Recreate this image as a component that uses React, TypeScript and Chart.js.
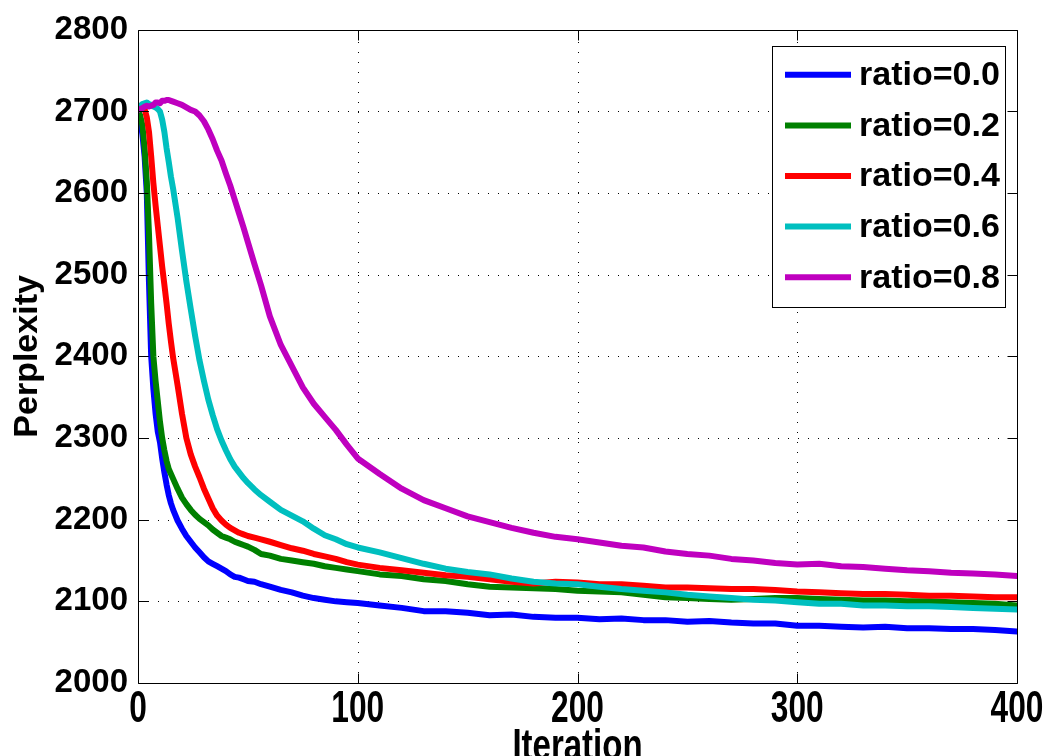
import React, { useEffect, useRef } from "react";
import { Chart, registerables } from "chart.js";

Chart.register(...registerables);

const iterations = [
  0, 1, 2, 3, 4, 5, 6, 7, 8, 9, 10, 11, 12, 13, 14, 15, 16,
  18, 20, 22, 24, 26, 28, 30, 32, 34, 36, 38, 40, 42, 44, 46, 48, 50,
  53, 56,
  60, 65, 70, 75, 80, 85, 90, 95, 100,
  110, 120, 130, 140, 150, 160, 170, 180, 190, 200, 210, 220, 230, 240, 250,
  260, 270, 280, 290, 300, 310, 320, 330, 340, 350, 360, 370, 380, 390, 400,
];

const ratio00 = [
  2700, 2690, 2672, 2645, 2600, 2490, 2400, 2360, 2330, 2308, 2295, 2275, 2258, 2243, 2230, 2220, 2212,
  2199, 2189, 2180, 2173, 2166, 2160, 2154, 2149, 2146, 2143, 2140, 2137, 2133, 2130, 2129, 2127, 2125,
  2124, 2121,
  2118, 2114, 2111, 2107, 2104, 2102, 2100, 2099, 2098,
  2095, 2092, 2088, 2088, 2086, 2083, 2084, 2081, 2080, 2080, 2078, 2079, 2077, 2077, 2075,
  2076, 2074, 2073, 2073, 2070, 2070, 2069, 2068, 2069, 2067, 2067, 2066, 2066, 2065, 2063,
];

const ratio02 = [
  2700, 2695, 2683, 2655, 2615, 2550, 2465, 2400, 2370, 2345, 2320, 2300, 2285, 2272, 2262, 2256, 2250,
  2238, 2227, 2219, 2212, 2206, 2201, 2197, 2193, 2188, 2184, 2180, 2178, 2176, 2173, 2171, 2169, 2167,
  2163, 2158,
  2156, 2152, 2150, 2148, 2146, 2143, 2141, 2139, 2137,
  2133, 2131, 2127, 2125, 2121, 2118, 2117, 2116, 2115, 2113, 2112, 2111, 2108, 2105, 2104,
  2103, 2102, 2103, 2104, 2104, 2103, 2102, 2101, 2101, 2100, 2100, 2099, 2098, 2097, 2095,
];

const ratio04 = [
  2702, 2707, 2708, 2703, 2693, 2675, 2645, 2612, 2585, 2560, 2535, 2510, 2488, 2465, 2440, 2418, 2398,
  2365, 2330, 2300, 2280, 2265, 2252, 2238, 2226, 2214, 2205, 2199, 2194, 2190, 2187, 2184, 2182, 2180,
  2178, 2176,
  2173, 2169, 2165, 2162, 2158, 2155, 2152, 2148, 2145,
  2141, 2138, 2135, 2132, 2130, 2127, 2124, 2122, 2124, 2123, 2121, 2121, 2119, 2117, 2117,
  2116, 2115, 2115, 2114, 2112, 2111, 2110, 2109, 2109, 2108, 2107, 2107, 2106, 2105, 2105,
];

const ratio06 = [
  2702, 2706, 2709, 2710, 2711, 2709, 2708, 2706, 2705, 2703, 2700, 2690, 2675, 2655, 2638, 2620, 2605,
  2570, 2530, 2492, 2458, 2425, 2395, 2370, 2347, 2328, 2311, 2297, 2285, 2274, 2265, 2258, 2251, 2245,
  2237, 2230,
  2222, 2212, 2205, 2198, 2189, 2181, 2176, 2170, 2166,
  2160, 2153, 2146, 2140, 2136, 2133, 2128, 2124, 2122, 2121, 2118, 2115, 2113, 2111, 2108,
  2106, 2104, 2102, 2101, 2099, 2097, 2097, 2095, 2095, 2094, 2094, 2093, 2092, 2091, 2090,
];

const ratio08 = [
  2702, 2703, 2704, 2706, 2707, 2706, 2707, 2708, 2711, 2711, 2710, 2713, 2713, 2714, 2714, 2713, 2712,
  2710, 2708, 2705, 2702, 2700, 2695, 2688, 2678, 2666, 2652, 2640, 2624, 2609, 2592, 2575, 2558, 2540,
  2513, 2487,
  2449, 2414, 2388, 2362, 2342, 2326, 2310, 2292, 2275,
  2256, 2238, 2224, 2214, 2204, 2197, 2190, 2184, 2179, 2176, 2172, 2168, 2166, 2161, 2158,
  2156, 2152, 2150, 2147, 2145, 2146, 2143, 2142, 2140, 2138, 2137, 2135, 2134, 2133, 2131,
];

const seriesLabels = ["ratio=0.0", "ratio=0.2", "ratio=0.4", "ratio=0.6", "ratio=0.8"];
const seriesValues = [ratio00, ratio02, ratio04, ratio06, ratio08];
const seriesColors = ["#0000ff", "#008000", "#ff0000", "#00bfbf", "#bf00bf"];

const xTickValues = [0, 100, 200, 300, 400];
const yTickValues = [2000, 2100, 2200, 2300, 2400, 2500, 2600, 2700, 2800];
const xTitle = "Iteration";
const yTitle = "Perplexity";

const FONT = '"Liberation Sans", Arial, Helvetica, sans-serif';
const X_SQUISH = 0.72;
const X_FONT_SIZE = 44;

const framePlugin = {
  id: "frame",
  beforeDatasetsDraw(chart: any) {
    const { ctx, chartArea } = chart;
    const xs = chart.scales.x;
    const ys = chart.scales.y;
    ctx.save();
    ctx.strokeStyle = "#000";
    ctx.lineWidth = 1;
    ctx.setLineDash([1, 9]);
    for (const v of xTickValues) {
      const px = Math.round(xs.getPixelForValue(v)) + 0.5;
      if (px <= chartArea.left + 1 || px >= chartArea.right - 1) continue;
      ctx.beginPath();
      ctx.moveTo(px, chartArea.bottom);
      ctx.lineTo(px, chartArea.top);
      ctx.stroke();
    }
    for (const v of yTickValues) {
      const py = Math.round(ys.getPixelForValue(v)) + 0.5;
      if (py <= chartArea.top + 1 || py >= chartArea.bottom - 1) continue;
      ctx.beginPath();
      ctx.moveTo(chartArea.left, py);
      ctx.lineTo(chartArea.right, py);
      ctx.stroke();
    }
    ctx.restore();
  },
  afterDatasetsDraw(chart: any) {
    const { ctx, chartArea } = chart;
    const xs = chart.scales.x;
    const ys = chart.scales.y;
    const L = Math.round(chartArea.left) + 0.5;
    const R = Math.round(chartArea.right) + 0.5;
    const T = Math.round(chartArea.top) + 0.5;
    const B = Math.round(chartArea.bottom) + 0.5;
    const tl = 10;
    ctx.save();
    ctx.strokeStyle = "#000";
    ctx.lineWidth = 1;
    ctx.setLineDash([]);
    ctx.beginPath();
    ctx.rect(L, T, R - L, B - T);
    ctx.stroke();
    ctx.beginPath();
    for (const v of xTickValues) {
      const px = Math.round(xs.getPixelForValue(v)) + 0.5;
      ctx.moveTo(px, B);
      ctx.lineTo(px, B - tl);
      ctx.moveTo(px, T);
      ctx.lineTo(px, T + tl);
    }
    for (const v of yTickValues) {
      const py = Math.round(ys.getPixelForValue(v)) + 0.5;
      ctx.moveTo(L, py);
      ctx.lineTo(L + tl, py);
      ctx.moveTo(R, py);
      ctx.lineTo(R - tl, py);
    }
    ctx.stroke();

    // condensed x tick labels and x title (as in the MATLAB export)
    ctx.fillStyle = "#000";
    ctx.textAlign = "center";
    ctx.textBaseline = "alphabetic";
    ctx.font = `bold ${X_FONT_SIZE}px ${FONT}`;
    for (const v of xTickValues) {
      const px = xs.getPixelForValue(v);
      ctx.save();
      ctx.translate(px, chartArea.bottom + 39);
      ctx.scale(X_SQUISH, 1);
      ctx.fillText(String(v), 0, 0);
      ctx.restore();
    }
    ctx.save();
    ctx.translate((chartArea.left + chartArea.right) / 2, chartArea.bottom + 77);
    ctx.scale(0.75, 1);
    ctx.fillText(xTitle, 0, 0);
    ctx.restore();

    // legend box
    const boxL = chartArea.right - 245;
    const boxR = chartArea.right - 12;
    const boxT = chartArea.top + 16;
    const boxB = chartArea.top + 277;
    ctx.fillStyle = "#fff";
    ctx.fillRect(boxL, boxT, boxR - boxL, boxB - boxT);
    ctx.strokeStyle = "#000";
    ctx.lineWidth = 1;
    ctx.strokeRect(Math.round(boxL) + 0.5, Math.round(boxT) + 0.5, Math.round(boxR - boxL), Math.round(boxB - boxT));
    ctx.font = `bold 34px ${FONT}`;
    ctx.textBaseline = "middle";
    ctx.textAlign = "left";
    seriesLabels.forEach((lab, i) => {
      const y = boxT + 29 + i * 50.6;
      ctx.strokeStyle = seriesColors[i];
      ctx.lineWidth = 6;
      ctx.beginPath();
      ctx.moveTo(boxL + 13, y);
      ctx.lineTo(boxL + 79, y);
      ctx.stroke();
      ctx.fillStyle = "#000";
      ctx.fillText(lab, boxL + 87, y + 1);
    });
    ctx.restore();
  },
};

export default function App() {
  const ref = useRef<HTMLCanvasElement | null>(null);
  useEffect(() => {
    if (!ref.current) return;
    const datasets = seriesValues.map((vals, i) => ({
      label: seriesLabels[i],
      data: iterations.map((x, j) => ({ x, y: vals[j] })),
      borderColor: seriesColors[i],
      backgroundColor: seriesColors[i],
      borderWidth: 6,
      pointRadius: 0,
      tension: 0,
      fill: false,
      order: seriesLabels.length - 1 - i,
      borderJoinStyle: "round" as const,
      borderCapStyle: "round" as const,
    }));
    const chart = new Chart(ref.current, {
      type: "line",
      data: { datasets },
      plugins: [framePlugin],
      options: {
        animation: false,
        responsive: false,
        devicePixelRatio: 1,
        layout: { padding: { top: 27, right: 31, left: 0, bottom: 0 } },
        plugins: { legend: { display: false }, tooltip: { enabled: false } },
        scales: {
          x: {
            type: "linear",
            min: 0,
            max: 400,
            afterBuildTicks: (scale: any) => {
              scale.ticks = xTickValues.map((v) => ({ value: v }));
            },
            afterFit: (scale: any) => {
              scale.height = 73;
            },
            grid: { display: false, drawTicks: false },
            border: { display: false },
            ticks: { display: false },
          },
          y: {
            type: "linear",
            min: 2000,
            max: 2800,
            afterBuildTicks: (scale: any) => {
              scale.ticks = yTickValues.map((v) => ({ value: v }));
            },
            afterFit: (scale: any) => {
              scale.width = 138;
            },
            grid: { display: false, drawTicks: false },
            border: { display: false },
            ticks: {
              color: "#000",
              padding: 10,
              font: { family: FONT, size: 33, weight: "bold" },
              callback: (v: any) => String(v),
            },
            title: {
              display: true,
              text: yTitle,
              color: "#000",
              font: { family: FONT, size: 34, weight: "bold", lineHeight: 1 },
              padding: { top: 11, bottom: 0 },
            },
          },
        },
      },
    });
    return () => chart.destroy();
  }, []);
  return (
    <div style={{ position: "absolute", left: 0, top: 0, width: 1048, height: 756, background: "#fff" }}>
      <canvas ref={ref} width={1048} height={756} style={{ display: "block" }} />
    </div>
  );
}
